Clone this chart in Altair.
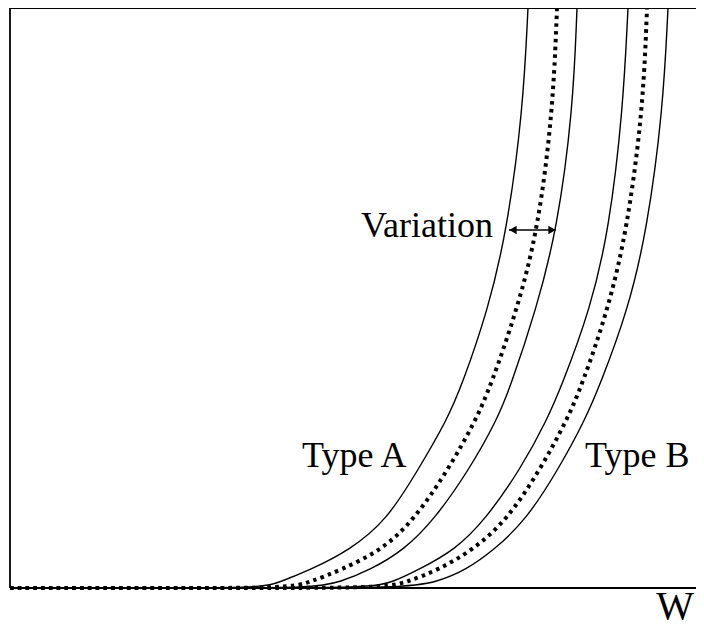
import altair as alt
import pandas as pd

# Heights (arbitrary units, 0 = baseline, 580 = top of the frame)
levels = [0, 6, 18, 38, 68, 118, 168, 203, 278, 358, 478, 580]

# Horizontal position (W, arbitrary units) of each curve at those heights
type_a_low = [252, 270, 300, 340, 377, 408, 437, 452, 478, 497, 513, 518]
type_a_mid = [280, 300, 331, 372, 404, 438, 466, 481, 507, 528, 543, 547]
type_a_high = [305, 330, 360, 394, 424, 459, 487, 501, 526, 547, 563, 567]
type_b_low = [360, 383, 408, 445, 475, 510, 537, 552, 580, 599, 613, 618]
type_b_mid = [375, 397, 428, 463, 497, 530, 557, 572, 598, 617, 633, 637]
type_b_high = [395, 427, 456, 484, 516, 548, 575, 590, 618, 637, 653, 658]

curve_names = ["A_low", "A_mid", "A_high", "B_low", "B_mid", "B_high"]
curve_x = [type_a_low, type_a_mid, type_a_high, type_b_low, type_b_mid, type_b_high]
curve_dotted = [False, True, False, False, True, False]

# Variation arrow (between the two solid Type A curves)
arrow_y = 358
arrow_x0 = 499
arrow_x1 = 546

# Labels
label_text = ["Variation", "Type A", "Type B"]
label_x = [483, 292, 575]
label_y = [351, 121, 121]
label_align = ["right", "left", "left"]
axis_label = "W"
axis_label_x = 665
axis_label_y = -31

X_MAX = 686
Y_MAX = 580

rows = []
for name, xs_, dotted in zip(curve_names, curve_x, curve_dotted):
    rows.append({"curve": name, "x": 0, "y": 0, "dotted": dotted})
    rows.append({"curve": name, "x": xs_[0] * 0.6, "y": 0, "dotted": dotted})
    for x, y in zip(xs_, levels):
        rows.append({"curve": name, "x": x, "y": y, "dotted": dotted})
df = pd.DataFrame(rows)

xs = alt.Scale(domain=[0, X_MAX], nice=False, zero=False)
ys = alt.Scale(domain=[0, Y_MAX], nice=False, zero=False)

base_x = alt.X("x:Q", scale=xs, axis=None)
base_y = alt.Y("y:Q", scale=ys, axis=None)

solid = alt.Chart(df[~df["dotted"]]).mark_line(
    color="black", strokeWidth=1.4, interpolate="basis"
).encode(x=base_x, y=base_y, detail="curve:N", order="x:Q")

dotted = alt.Chart(df[df["dotted"]]).mark_line(
    color="black", strokeWidth=4, strokeDash=[3.5, 4.3], strokeCap="butt",
    interpolate="basis"
).encode(x=base_x, y=base_y, detail="curve:N", order="x:Q")

frame_df = pd.DataFrame({
    "x": [0, 0, 0], "x2": [X_MAX, 0, X_MAX],
    "y": [Y_MAX, 0, 0], "y2": [Y_MAX, Y_MAX, 0],
})
frame = alt.Chart(frame_df).mark_rule(color="black", strokeWidth=1.8).encode(
    x=alt.X("x:Q", scale=xs, axis=None), x2="x2:Q",
    y=alt.Y("y:Q", scale=ys, axis=None), y2="y2:Q",
)

arrow_df = pd.DataFrame({"x": [arrow_x0], "x2": [arrow_x1], "y": [arrow_y]})
arrow_line = alt.Chart(arrow_df).mark_rule(color="black", strokeWidth=1.5).encode(
    x=alt.X("x:Q", scale=xs, axis=None), x2="x2:Q",
    y=alt.Y("y:Q", scale=ys, axis=None),
)
heads_df = pd.DataFrame({
    "x": [arrow_x0 + 4, arrow_x1 - 4], "y": [arrow_y, arrow_y],
    "shape": ["triangle-left", "triangle-right"],
})
heads = alt.Chart(heads_df).mark_point(
    filled=True, color="black", size=70, opacity=1
).encode(
    x=alt.X("x:Q", scale=xs, axis=None), y=alt.Y("y:Q", scale=ys, axis=None),
    shape=alt.Shape("shape:N", scale=None, legend=None),
)

lab_df = pd.DataFrame({"t": label_text, "x": label_x, "y": label_y, "a": label_align})
labels = []
for al in ["left", "right"]:
    labels.append(
        alt.Chart(lab_df[lab_df["a"] == al]).mark_text(
            font="Liberation Serif", fontSize=36, align=al, baseline="alphabetic",
            color="black",
        ).encode(
            x=alt.X("x:Q", scale=xs, axis=None), y=alt.Y("y:Q", scale=ys, axis=None),
            text="t:N",
        )
    )
w_df = pd.DataFrame({"t": [axis_label], "x": [axis_label_x], "y": [axis_label_y]})
w_label = alt.Chart(w_df).mark_text(
    font="Liberation Serif", fontSize=40, align="center", baseline="alphabetic",
    color="black",
).encode(
    x=alt.X("x:Q", scale=xs, axis=None), y=alt.Y("y:Q", scale=ys, axis=None),
    text="t:N",
)

chart = alt.layer(frame, dotted, solid, arrow_line, heads, *labels, w_label).properties(
    width=X_MAX, height=Y_MAX,
    padding={"left": 2, "top": 0, "right": 0, "bottom": 40},
    autosize=alt.AutoSizeParams(type="none"),
    background="white",
).configure_view(stroke=None)

chart.save("out.html", embed_options={"renderer": "svg", "actions": False})
